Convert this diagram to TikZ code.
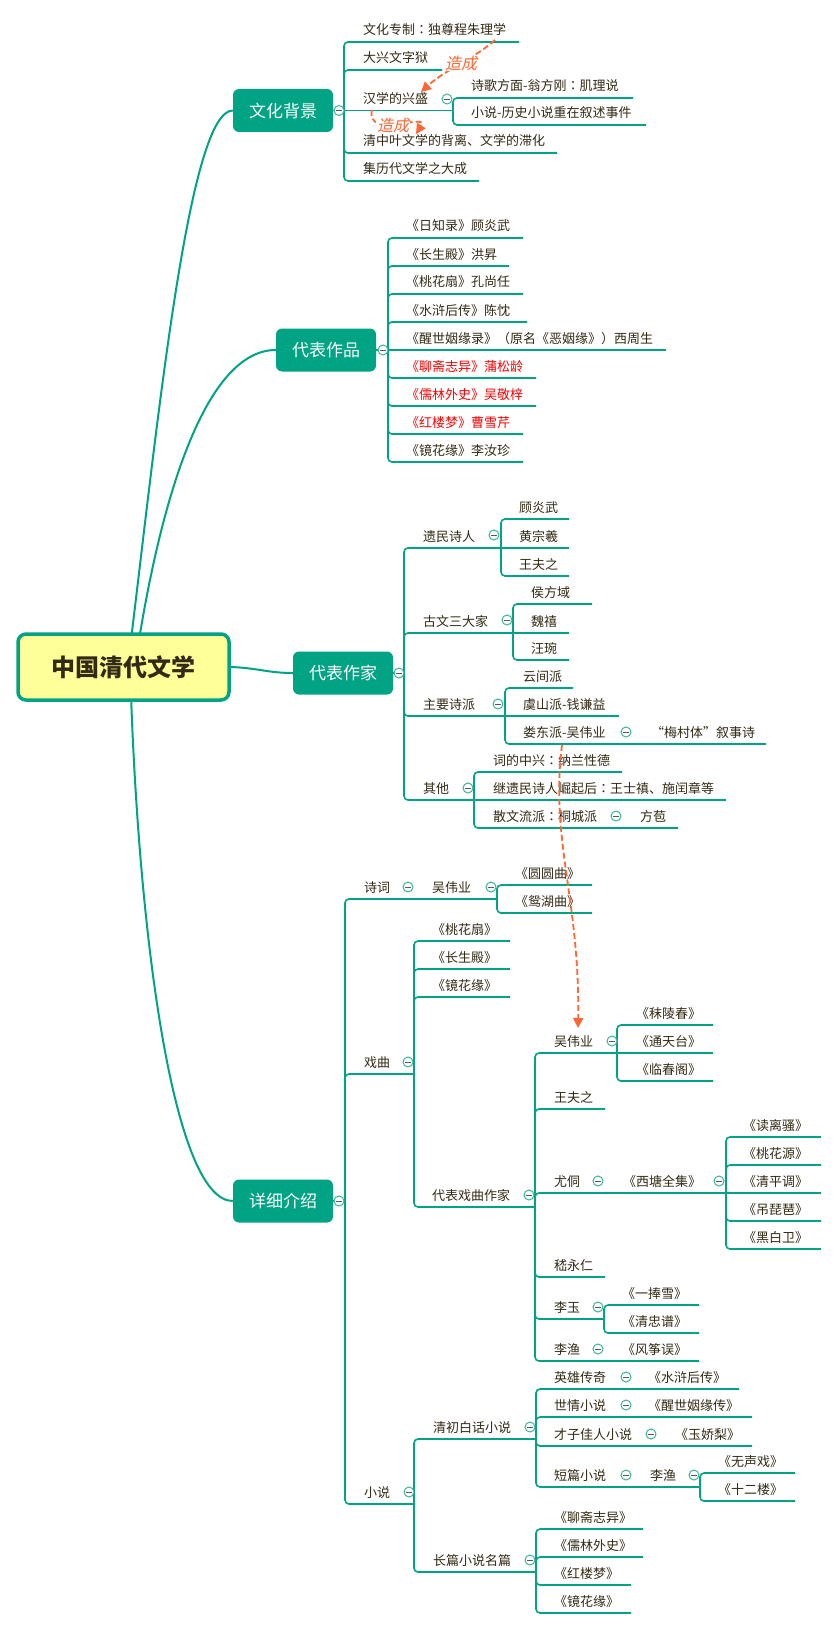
\documentclass[tikz,border=0pt]{standalone}
\usepackage{fontspec}
\setmainfont{Noto Sans CJK SC}
\newfontfamily\slfont{Noto Sans CJK SC}[FakeSlant=0.22]
\newfontfamily\jpf{Noto Sans CJK JP}
\usetikzlibrary{arrows.meta,backgrounds}
\definecolor{tl}{RGB}{0,163,131}
\definecolor{tlc}{RGB}{60,180,155}
\definecolor{tx}{RGB}{50,42,20}
\definecolor{og}{RGB}{255,102,51}
\definecolor{yel}{RGB}{255,255,153}
\newcommand\cln{{\jpf ：}}
\newcommand\kid[7][]{%
  \coordinate (#2e) at (#6,#5);
  \draw[br] (#3) |- (#2e);
  \node[txt,#1] (#2) at (#4,#5) {#7};}
\newcommand\kidh[7][]{%
  \coordinate (#2e) at (#6,#5);
  \draw[br] (#3) -- ++(12,0) -- (#2e);
  \node[txt,#1] (#2) at (#4,#5) {#7};}
\newcommand\colp[3]{\node[coll] (#1) at (#2,#3) {};}
\begin{document}
\begin{tikzpicture}[x=1pt,y=-1pt,
 br/.style={draw=tl,line width=1.6pt,rounded corners=4pt},
 mainc/.style={draw=tl,line width=2pt},
 txt/.style={anchor=base west,inner sep=0pt,yshift=7pt,text=tx,font=\fontsize{13}{13}\selectfont},
 hl/.style={text=red},
 mainbox/.style={fill=tl,rounded corners=6pt,minimum width=100pt,minimum height=43pt,inner sep=0pt,text=white,font=\fontsize{17}{17}\selectfont},
 rootbox/.style={draw=tl,line width=3.5pt,fill=yel,rounded corners=8pt,minimum width=211pt,minimum height=66pt,inner sep=0pt,text=tx,font=\fontsize{24}{24}\selectfont\bfseries},
 coll/.style={circle,draw=tlc,fill=white,line width=1pt,minimum size=10pt,inner sep=0pt,
   path picture={\draw[line width=0.9pt,draw=gray!70!black] ([xshift=-2.6pt]path picture bounding box.center) -- ([xshift=2.6pt]path picture bounding box.center);}},
 rel/.style={draw=og,line width=1.8pt,dash pattern=on 6pt off 3pt,-{Triangle[length=10pt,width=10pt]}},
 zc/.style={fill=white,inner sep=1pt,text=og,font=\slfont\fontsize{16}{16}\selectfont}]
\useasboundingbox (0,0) rectangle (837,1629);

% root and main branches
\node[rootbox] (R) at (123.5,667) {中国清代文学};
\node[mainbox] (A) at (283,110.5) {文化背景};
\node[mainbox] (B) at (326,350) {代表作品};
\node[mainbox] (C) at (343,673) {代表作家};
\node[mainbox] (D) at (283,1201) {详细介绍};
\coordinate (r1) at (131,640);
\coordinate (r2) at (139,640);
\coordinate (r4) at (131,695);
\begin{scope}[on background layer]
\fill[white] (0,0) rectangle (837,1629);
\draw[mainc] (r1) .. controls (160,400) and (190,110.5) .. (A.west);
\draw[mainc] (r2) .. controls (165,480) and (210,350) .. (B.west);
\draw[mainc] (R.east) .. controls (258,668) and (268,673) .. (C.west);
\draw[mainc] (r4) .. controls (140,950) and (175,1201) .. (D.west);
\end{scope}

% ---- 文化背景
\coordinate (Ap) at (344,110.5);
\draw[br] (A.east) -- (Ap);
\kid{A1}{Ap}{363}{42}{519}{文化专制\cln 独尊程朱理学}
\kid{A2}{Ap}{363}{70}{442}{大兴文字狱}
\kidh{A3}{Ap}{363}{110.5}{453}{汉学的兴盛}
\kid{A4}{Ap}{363}{153}{557}{清中叶文学的背离、文学的滞化}
\kid{A5}{Ap}{363}{181}{479}{集历代文学之大成}
\kid{A31}{A3e}{471}{98}{633}{诗歌方面-翁方刚\cln 肌理说}
\kid{A32}{A3e}{471}{125}{646}{小说-历史小说重在叙述事件}

% ---- 代表作品
\coordinate (Bp) at (388,350);
\draw[br] (B.east) -- (Bp);
\kid{B1}{Bp}{406}{238}{523}{《日知录》顾炎武}
\kid{B2}{Bp}{406}{266}{509}{《长生殿》洪昇}
\kid{B3}{Bp}{406}{294}{523}{《桃花扇》孔尚任}
\kid{B4}{Bp}{406}{322}{527}{《水浒后传》陈忱}
\kidh{B5}{Bp}{406}{350}{666}{《醒世姻缘录》（原名《恶姻缘》）西周生}
\kid[hl]{B6}{Bp}{406}{378}{536}{《聊斋志异》蒲松龄}
\kid[hl]{B7}{Bp}{406}{406}{536}{《儒林外史》吴敬梓}
\kid[hl]{B8}{Bp}{406}{434}{523}{《红楼梦》曹雪芹}
\kid{B9}{Bp}{406}{462}{523}{《镜花缘》李汝珍}

% ---- 代表作家
\coordinate (Cp) at (404,673);
\draw[br] (C.east) -- (Cp);
\kid{C1}{Cp}{423}{548}{501}{遗民诗人}
\kid{C2}{Cp}{423}{633}{513}{古文三大家}
\kid{C3}{Cp}{423}{716}{505}{主要诗派}
\kid{C4}{Cp}{423}{800}{474}{其他}
\kid{C11}{C1e}{519}{519}{569}{顾炎武}
\kidh{C12}{C1e}{519}{548}{569}{黄宗羲}
\kid{C13}{C1e}{519}{576}{569}{王夫之}
\kid{C21}{C2e}{531}{604}{592}{侯方域}
\kidh{C22}{C2e}{531}{633}{569}{魏禧}
\kid{C23}{C2e}{531}{660}{569}{汪琬}
\kid{C31}{C3e}{523}{688}{573}{云间派}
\kidh{C32}{C3e}{523}{716}{619}{虞山派-钱谦益}
\kid{C33}{C3e}{523}{744}{766}{娄东派-吴伟业}
\node[txt] (C331) at (651,744) {“梅村体”叙事诗};
\kid{C41}{C4e}{493}{772}{622}{词的中兴\cln 纳兰性德}
\kidh{C42}{C4e}{493}{800}{726}{继遗民诗人崛起后\cln 王士禛、施闰章等}
\kid{C43}{C4e}{493}{828}{678}{散文流派\cln 桐城派}
\node[txt] (C431) at (640,828) {方苞};

% ---- 详细介绍
\coordinate (Dp) at (345,1201);
\draw[br] (D.east) -- (Dp);
\kid{D1}{Dp}{364}{899}{497}{诗词}
\node[txt] (D11) at (432,899) {吴伟业};
\kid{D111}{D1e}{515}{885}{592}{《圆圆曲》}
\kid{D112}{D1e}{515}{913}{592}{《鸳湖曲》}
\kid{D2}{Dp}{364}{1074}{414}{戏曲}
\kid{D21}{D2e}{432}{941}{510}{《桃花扇》}
\kid{D22}{D2e}{432}{969}{510}{《长生殿》}
\kid{D23}{D2e}{432}{997}{510}{《镜花缘》}
\kid{D24}{D2e}{432}{1207}{535}{代表戏曲作家}
\kid{E1}{D24e}{554}{1053}{617}{吴伟业}
\kid{E11}{E1e}{636}{1025}{713}{《秣陵春》}
\kidh{E12}{E1e}{636}{1053}{713}{《通天台》}
\kid{E13}{E1e}{636}{1081}{713}{《临春阁》}
\kid{E2}{D24e}{554}{1109}{605}{王夫之}
\kid{E3}{D24e}{554}{1193}{726}{尤侗}
\node[txt] (E31) at (623,1193) {《西塘全集》};
\kid{E311}{E3e}{743}{1137}{821}{《读离骚》}
\kid{E312}{E3e}{743}{1165}{821}{《桃花源》}
\kidh{E313}{E3e}{743}{1193}{821}{《清平调》}
\kid{E314}{E3e}{743}{1221}{821}{《吊琵琶》}
\kid{E315}{E3e}{743}{1249}{821}{《黑白卫》}
\kid{E4}{D24e}{554}{1277}{605}{嵇永仁}
\kid{E5}{D24e}{554}{1319}{604}{李玉}
\kid{E51}{E5e}{622}{1305}{699}{《一捧雪》}
\kid{E52}{E5e}{622}{1333}{699}{《清忠谱》}
\kid{E6}{D24e}{554}{1361}{699}{李渔}
\node[txt] (E61) at (622,1361) {《风筝误》};
\kid{D3}{Dp}{364}{1504}{414}{小说}
\kid{F1}{D3e}{433}{1439}{536}{清初白话小说}
\kid{F11}{F1e}{554}{1389}{739}{英雄传奇}
\node[txt] (F111) at (648,1389) {《水浒后传》};
\kid{F12}{F1e}{554}{1417}{752}{世情小说}
\node[txt] (F121) at (648,1417) {《醒世姻缘传》};
\kid{F13}{F1e}{554}{1446}{752}{才子佳人小说}
\node[txt] (F131) at (675,1446) {《玉娇梨》};
\kid{F14}{F1e}{554}{1487}{700}{短篇小说}
\node[txt] (F141) at (650,1487) {李渔};
\kid{F1411}{F14e}{718}{1473}{795}{《无声戏》}
\kid{F1412}{F14e}{718}{1501}{795}{《十二楼》}
\kid{F2}{D3e}{433}{1572}{536}{长篇小说名篇}
\kid{F21}{F2e}{554}{1529}{643}{《聊斋志异》}
\kid{F22}{F2e}{554}{1557}{643}{《儒林外史》}
\kid{F23}{F2e}{554}{1585}{631}{《红楼梦》}
\kid{F24}{F2e}{554}{1613}{631}{《镜花缘》}

% ---- collapse markers
\colp{Ac}{339}{110.5}
\colp{A3c}{447}{99}
\colp{Bc}{383}{350}
\colp{Cc}{399}{673}
\colp{C1c}{494}{535}
\colp{C2c}{507}{620}
\colp{C3c}{498}{704}
\colp{C33c}{626}{732}
\colp{C4c}{468}{788}
\colp{C43c}{616}{816}
\colp{Dc}{339}{1201}
\colp{D1c}{408}{887}
\colp{D11c}{491}{887}
\colp{D2c}{408}{1062}
\colp{D24c}{529}{1195}
\colp{E1c}{612}{1041}
\colp{E3c}{598}{1181}
\colp{E31c}{719}{1181}
\colp{E5c}{598}{1307}
\colp{E6c}{598}{1349}
\colp{D3c}{409}{1492}
\colp{F1c}{530}{1427}
\colp{F11c}{626}{1377}
\colp{F12c}{626}{1405}
\colp{F13c}{651}{1434}
\colp{F14c}{626}{1475}
\colp{F141c}{694}{1475}
\colp{F2c}{530}{1560}

% ---- relations
\coordinate (s1) at (495,40);
\coordinate (t1) at (421,92);
\draw[rel] (s1) .. controls (475,58) and (445,70) .. (t1);
\node[zc] (z1) at (461,63) {造成};
\coordinate (s2) at (372,110);
\coordinate (t2) at (416,134);
\draw[rel] (s2) .. controls (365,140) and (430,112) .. (t2);
\node[zc] (z2) at (393,125) {造成};
\coordinate (s3) at (562,745);
\coordinate (t3) at (578,1028);
\draw[rel] (s3) .. controls (550,840) and (580,900) .. (t3);
\end{tikzpicture}
\end{document}
